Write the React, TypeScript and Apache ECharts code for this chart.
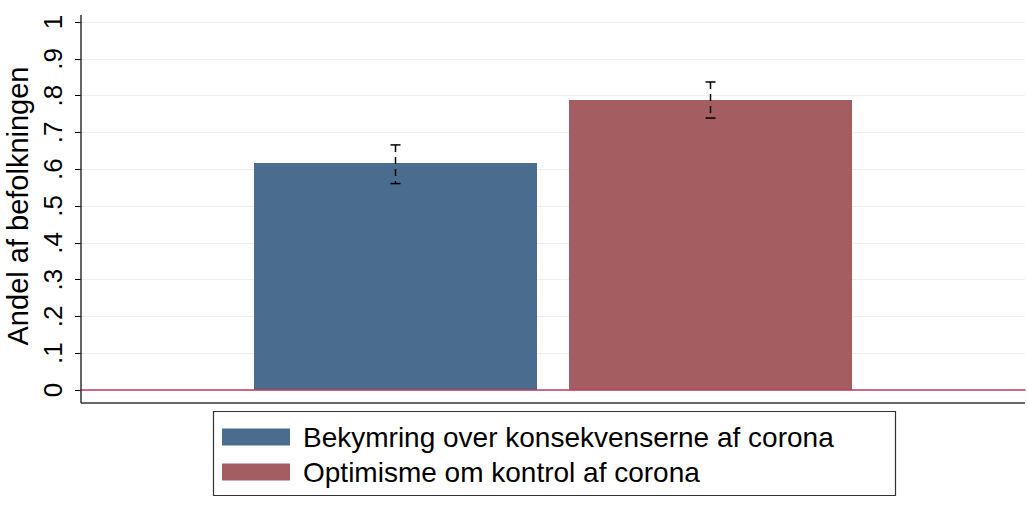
import React, { useEffect, useRef } from "react";
import * as echarts from "echarts";

const categories = [""];
const seriesNames = ["Bekymring over konsekvenserne af corona", "Optimisme om kontrol af corona"];
const means = [0.617, 0.788];
const lows = [0.561, 0.739];
const highs = [0.666, 0.837];
const colors = ["#4a6d8f", "#a45e61"];
const yTicks = [0, 0.1, 0.2, 0.3, 0.4, 0.5, 0.6, 0.7, 0.8, 0.9, 1];
const yTickLabels = ["0", ".1", ".2", ".3", ".4", ".5", ".6", ".7", ".8", ".9", "1"];

const BAR_W = 283;
const BAR_GAP = 32;
const FONT = "'Liberation Sans', Arial, Helvetica, sans-serif";

export default function App() {
  const ref = useRef<HTMLDivElement>(null);
  useEffect(() => {
    if (!ref.current) return;
    const chart = echarts.init(ref.current, null, { renderer: "svg" });
    const barSeries = seriesNames.map((name, i) => ({
      type: "bar",
      name,
      data: [means[i]],
      barWidth: BAR_W,
      barGap: (BAR_GAP / BAR_W) * 100 + "%",
      itemStyle: { color: colors[i] },
      silent: true,
    }));
    const errData = seriesNames.map((_, i) => [0, lows[i], highs[i], i]);
    chart.setOption({
      animation: false,
      backgroundColor: "#ffffff",
      grid: { left: 81, right: 3, top: 22, bottom: 123, containLabel: false, outerBoundsMode: "none" },
      legend: {
        orient: "vertical",
        left: 222,
        top: 423,
        padding: 0,
        itemWidth: 68,
        itemHeight: 17,
        itemGap: 7,
        icon: "rect",
        selectedMode: false,
        textStyle: { fontFamily: FONT, fontSize: 28, lineHeight: 28, color: "#000", padding: [0, 0, 0, 8] },
        data: seriesNames,
      },
      xAxis: {
        type: "category",
        data: categories,
        axisTick: { show: false },
        axisLabel: { show: false },
        axisLine: { show: true, lineStyle: { color: "#c33a5a", width: 1.5 } },
        splitLine: { show: false },
        z: 10,
      },
      yAxis: {
        type: "value",
        min: 0,
        max: 1,
        interval: 0.1,
        name: "Andel af befolkningen",
        nameLocation: "middle",
        nameGap: 39,
        nameTextStyle: { fontFamily: FONT, fontSize: 29, color: "#000" },
        axisLine: { show: false },
        axisTick: { show: true, length: 6, lineStyle: { color: "#000", width: 1 } },
        axisLabel: {
          rotate: 90,
          margin: 15,
          fontFamily: FONT,
          fontSize: 26,
          color: "#000",
          formatter: (v: number) => {
            const idx = yTicks.findIndex((t) => Math.abs(t - v) < 1e-6);
            return idx >= 0 ? yTickLabels[idx] : "";
          },
        },
        splitLine: { show: true, lineStyle: { color: "#eaf0f3", width: 1 } },
      },
      graphic: [
        { type: "line", shape: { x1: 81, y1: 15, x2: 81, y2: 403 }, style: { stroke: "#333", lineWidth: 1.5 }, z: 100 },
        { type: "line", shape: { x1: 81, y1: 403, x2: 1025, y2: 403 }, style: { stroke: "#333", lineWidth: 1.5 }, z: 100 },
        { type: "rect", shape: { x: 213.5, y: 411.5, width: 682, height: 84 }, style: { fill: "none", stroke: "#333", lineWidth: 1.2 }, z: 100 },
      ],
      series: [
        ...barSeries,
        {
          type: "custom",
          name: "ci",
          data: errData,
          z: 20,
          silent: true,
          renderItem: (params: any, api: any) => {
            const idx = api.value(3);
            const off = (idx - (seriesNames.length - 1) / 2) * (BAR_W + BAR_GAP);
            const lo = api.coord([api.value(0), api.value(1)]);
            const hi = api.coord([api.value(0), api.value(2)]);
            const x = lo[0] + off;
            const cap = 5;
            const st = { stroke: "#000", lineWidth: 1.5 };
            return {
              type: "group",
              children: [
                { type: "line", shape: { x1: x, y1: hi[1], x2: x, y2: lo[1] }, style: { ...st, lineDash: [7, 5] } },
                { type: "line", shape: { x1: x - cap, y1: hi[1], x2: x + cap, y2: hi[1] }, style: st },
                { type: "line", shape: { x1: x - cap, y1: lo[1], x2: x + cap, y2: lo[1] }, style: st },
              ],
            };
          },
        },
      ],
    });
    return () => chart.dispose();
  }, []);
  return <div ref={ref} style={{ position: "fixed", left: 0, top: 0, width: 1028, height: 513 }} />;
}
